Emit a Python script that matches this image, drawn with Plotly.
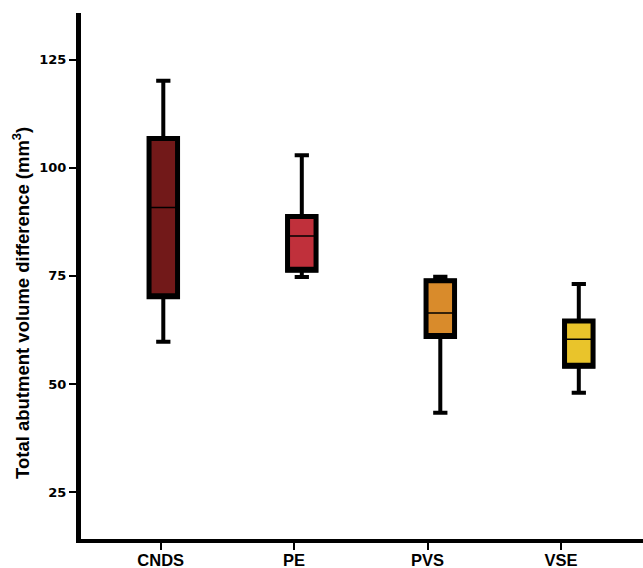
import plotly.graph_objects as go

categories = ["CNDS", "PE", "PVS", "VSE"]
lower_whisker = [59.8, 74.75, 43.4, 48.0]
q1_values = [70.2, 76.3, 61.0, 54.1]
median_values = [90.8, 84.2, 66.4, 60.35]
q3_values = [106.75, 88.7, 73.9, 64.6]
upper_whisker = [120.1, 102.9, 74.8, 73.1]
fill_colors = ["#721919", "#c0303b", "#d98b2b", "#e9c42b"]
y_tick_values = [25, 50, 75, 100, 125]
y_title = "Total abutment volume difference (mm<sup>3</sup>)"

W_FIG, H_FIG = 643, 568
ML, MR, MT, MB = 81, 0, 13, 29
plot_w = W_FIG - ML - MR

# y scale: 125 at 59.5 px, 4.328 px per unit
px_per_unit = 4.328
y_top = 125 + (59.5 - MT) / px_per_unit
y_bottom = 125 - (H_FIG - MB - 59.5) / px_per_unit

# boxes sit at category index; tick marks in the original drift slightly left of the boxes
positions = list(range(len(categories)))
tick_first, tick_step = 160.7, 133.4
box_first, box_step = 163.3, 138.5
x_lo = -(box_first - ML) / box_step
x_hi = x_lo + plot_w / box_step
tick_positions = [(tick_first + tick_step * i - box_first) / box_step for i in positions]
box_w = 28.5 / box_step

FONT = "Liberation Sans, Arial, Helvetica, sans-serif"

fig = go.Figure()

# whiskers layer
fig.add_trace(go.Box(
    x=positions, q1=q1_values, median=median_values, q3=q3_values,
    lowerfence=lower_whisker, upperfence=upper_whisker,
    width=box_w, whiskerwidth=0.5,
    line=dict(color="black", width=4), fillcolor="rgba(0,0,0,0)",
    boxpoints=False, showlegend=False, hoverinfo="skip",
))
# filled boxes layer
for p, a, b, col in zip(positions, q1_values, q3_values, fill_colors):
    fig.add_trace(go.Box(
        x=[p], q1=[a], median=[a], q3=[b], lowerfence=[a], upperfence=[b],
        width=box_w, whiskerwidth=0,
        line=dict(color="black", width=5), fillcolor=col,
        boxpoints=False, showlegend=False, hoverinfo="skip",
    ))
# medians layer
fig.add_trace(go.Box(
    x=positions, q1=median_values, median=median_values, q3=median_values,
    lowerfence=median_values, upperfence=median_values,
    width=box_w, whiskerwidth=0,
    line=dict(color="black", width=1.5), fillcolor="rgba(0,0,0,0)",
    boxpoints=False, showlegend=False, hoverinfo="skip",
))

fig.update_layout(
    width=W_FIG, height=H_FIG,
    margin=dict(l=ML, r=MR, t=MT, b=MB, pad=0),
    paper_bgcolor="white", plot_bgcolor="white",
    boxmode="overlay",
    font=dict(family=FONT, color="black"),
    xaxis=dict(
        type="linear", range=[x_lo, x_hi], automargin=False,
        tickvals=tick_positions, ticktext=categories,
        showline=True, linecolor="black", linewidth=4,
        ticks="outside", ticklen=7, tickwidth=1.5, tickcolor="black",
        ticklabelstandoff=-4,
        showgrid=False, zeroline=False,
        tickfont=dict(family=FONT, size=16.5, color="black", weight="bold"),
    ),
    yaxis=dict(
        range=[y_bottom, y_top], tickvals=y_tick_values, automargin=False,
        showline=True, linecolor="black", linewidth=5,
        ticks="outside", ticklen=7, tickwidth=1.5, tickcolor="black",
        showgrid=False, zeroline=False,
        tickfont=dict(family="DejaVu Sans, sans-serif", size=13, color="black", weight="bold"),
    ),
    annotations=[dict(
        text=y_title, textangle=-90, xref="paper", yref="paper",
        x=-(ML - 21) / plot_w, y=(H_FIG - MB - 303) / (H_FIG - MT - MB),
        xanchor="center", yanchor="middle", showarrow=False,
        font=dict(family=FONT, size=18.5, color="black", weight="bold"),
    )],
)

fig.write_html(
    "out.html",
    config={"displayModeBar": False},
    post_script="document.body.style.margin='0';document.body.style.overflow='hidden';",
)
